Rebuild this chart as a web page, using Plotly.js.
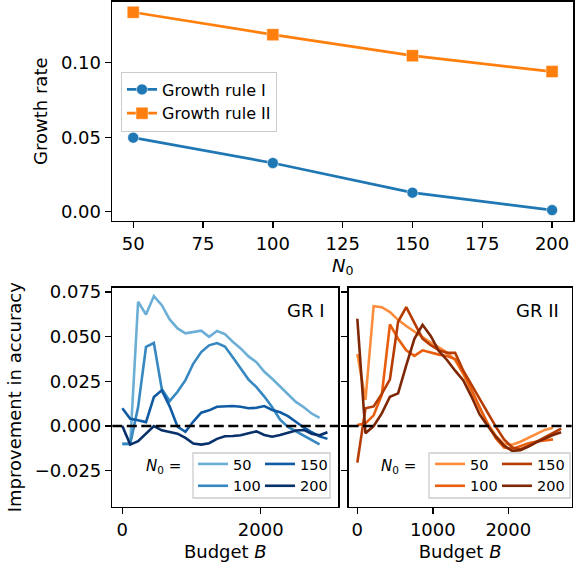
<!DOCTYPE html>
<html>
<head>
<meta charset="utf-8">
<script src="https://cdn.plot.ly/plotly-3.0.1.min.js"></script>
<style>
  html, body { margin: 0; padding: 0; background: #ffffff; }
  #chart { width: 576px; height: 568px; }
</style>
</head>
<body>
<div id="chart"></div>
<script>
// ---------- Top panel data ----------
const N0 = [50, 100, 150, 200];
const growthRuleI = [0.0497, 0.0327, 0.0128, 0.0011];
const growthRuleII = [0.1338, 0.1188, 0.1047, 0.0940];

// ---------- Bottom-left panel (GR I) ----------
const budgetGR1 = [0, 114, 228, 342, 456, 570, 684, 798, 912, 1026, 1140, 1254, 1368, 1482,
  1596, 1710, 1824, 1938, 2052, 2166, 2280, 2394, 2508, 2622, 2736, 2850, 2964];
const gr1N50 = [-0.0100, -0.0100, 0.0696, 0.0625, 0.0728, 0.0677, 0.0597, 0.0547, 0.0519, 0.0528,
  0.0534, 0.0500, 0.0532, 0.0515, 0.0472, 0.0435, 0.0390, 0.0358, 0.0304, 0.0265, 0.0220, 0.0180,
  0.0135, 0.0105, 0.0070, 0.0045];
const gr1N100 = [-0.0100, -0.0100, 0.0106, 0.0443, 0.0465, 0.0208, 0.0140, 0.0192, 0.0257, 0.0350,
  0.0414, 0.0452, 0.0465, 0.0445, 0.0385, 0.0320, 0.0260, 0.0218, 0.0165, 0.0105, 0.0035, -0.0005,
  -0.0030, -0.0053, -0.0078, -0.0103];
const gr1N150 = [0.0100, 0.0041, 0.0032, 0.0022, 0.0162, 0.0200, 0.0110, -0.0004, -0.0032, 0.0025,
  0.0075, 0.0088, 0.0108, 0.0112, 0.0112, 0.0108, 0.0100, 0.0102, 0.0112, 0.0090, 0.0077, 0.0055,
  0.0022, -0.0008, -0.0035, -0.0058, -0.0072];
const gr1N200 = [0.0000, -0.0104, -0.0085, -0.0044, 0.0000, -0.0024, -0.0033, -0.0043, -0.0067,
  -0.0098, -0.0104, -0.0096, -0.0072, -0.0057, -0.0056, -0.0052, -0.0040, -0.0030, -0.0050, -0.0060,
  -0.0050, -0.0038, -0.0025, -0.0022, -0.0043, -0.0052, -0.0035];

// ---------- Bottom-right panel (GR II) ----------
const budgetGR2 = [0, 108, 216, 324, 432, 540, 648, 756, 864, 972, 1080, 1188, 1296, 1404, 1512,
  1620, 1728, 1836, 1944, 2052, 2160, 2268, 2376, 2484, 2592, 2700];
const gr2N50 = [0.0403, 0.0146, 0.0671, 0.0666, 0.0638, 0.0595, 0.0560, 0.0528, 0.0500, 0.0467,
  0.0440, 0.0412, 0.0370, 0.0290, 0.0195, 0.0100, 0.0015, -0.0055, -0.0100, -0.0105, -0.0088,
  -0.0065, -0.0042, -0.0022, -0.0010];
const gr2N100 = [0.0005, 0.0015, 0.0060, 0.0174, 0.0570, 0.0489, 0.0424, 0.0393, 0.0424, 0.0410,
  0.0400, 0.0392, 0.0375, 0.0300, 0.0205, 0.0110, 0.0010, -0.0070, -0.0120, -0.0128, -0.0112,
  -0.0097, -0.0087, -0.0080, -0.0075];
const gr2N150 = [-0.0205, 0.0099, 0.0110, 0.0180, 0.0262, 0.0584, 0.0666, 0.0575, 0.0490, 0.0453,
  0.0425, 0.0410, 0.0410, 0.0310, 0.0230, 0.0150, 0.0070, -0.0005, -0.0075, -0.0120, -0.0130,
  -0.0112, -0.0088, -0.0065, -0.0040, -0.0015];
const gr2N200 = [0.0601, -0.0041, 0.0000, 0.0071, 0.0164, 0.0183, 0.0340, 0.0489, 0.0567, 0.0505,
  0.0420, 0.0370, 0.0310, 0.0255, 0.0165, 0.0065, 0.0000, -0.0060, -0.0110, -0.0140, -0.0135,
  -0.0115, -0.0090, -0.0068, -0.0050, -0.0035];

const N0Labels = ['50', '100', '150', '200'];
const blues = ['#6baed6', '#3787c0', '#105ca4', '#08306b'];
const oranges = ['#fd8d3c', '#e95e0d', '#b73c02', '#7f2704'];

const FONT = 'DejaVu Sans, Liberation Sans, sans-serif';
const W = 576, H = 568;
const px = v => v / W;          // horizontal pixel -> paper
const py = v => 1 - v / H;      // vertical pixel (from top) -> paper

const traces = [];
traces.push({
  x: N0, y: growthRuleI, type: 'scatter', mode: 'lines+markers', name: 'Growth rule I',
  xaxis: 'x', yaxis: 'y', legend: 'legend',
  line: {color: '#1f77b4', width: 2.7},
  marker: {symbol: 'circle', size: 11, color: '#1f77b4', line: {color: 'rgba(255,255,255,0.55)', width: 1}}
});
traces.push({
  x: N0, y: growthRuleII, type: 'scatter', mode: 'lines+markers', name: 'Growth rule II',
  xaxis: 'x', yaxis: 'y', legend: 'legend',
  line: {color: '#ff7f0e', width: 2.7},
  marker: {symbol: 'square', size: 12, color: '#ff7f0e', line: {color: 'rgba(255,255,255,0.45)', width: 1}}
});

const gr1Series = [gr1N50, gr1N100, gr1N150, gr1N200];
const gr2Series = [gr2N50, gr2N100, gr2N150, gr2N200];
gr1Series.forEach((ys, i) => {
  traces.push({
    x: budgetGR1, y: ys, type: 'scatter', mode: 'lines', name: N0Labels[i],
    xaxis: 'x2', yaxis: 'y2', legend: i < 2 ? 'legend2' : 'legend3',
    line: {color: blues[i], width: 2.6}
  });
});
gr2Series.forEach((ys, i) => {
  traces.push({
    x: budgetGR2, y: ys, type: 'scatter', mode: 'lines', name: N0Labels[i],
    xaxis: 'x3', yaxis: 'y3', legend: i < 2 ? 'legend4' : 'legend5',
    line: {color: oranges[i], width: 2.6}
  });
});

const axisCommon = {
  showgrid: false, zeroline: false, showline: true, mirror: true,
  linecolor: '#000000', linewidth: 1.4,
  ticks: 'outside', ticklen: 6, tickwidth: 1.4, tickcolor: '#000000',
  tickfont: {family: FONT, size: 18, color: '#000000'}
};

const smallLegend = (xPix) => ({
  x: px(xPix), y: py(475), xanchor: 'left', yanchor: 'middle',
  bgcolor: 'rgba(0,0,0,0)', borderwidth: 0,
  font: {family: FONT, size: 14.5, color: '#000000'},
  tracegroupgap: 0
});

const layout = {
  width: W, height: H,
  margin: {l: 0, r: 0, t: 0, b: 0},
  paper_bgcolor: '#ffffff', plot_bgcolor: '#ffffff',
  font: {family: FONT, color: '#000000'},
  showlegend: true,
  xaxis: Object.assign({}, axisCommon, {
    domain: [px(112), px(573.3)], anchor: 'y',
    range: [42.4, 207.6], tickmode: 'array', tickvals: [50, 75, 100, 125, 150, 175, 200],
    title: {text: '<i>N</i><sub>0</sub>', font: {family: FONT, size: 18}, standoff: 6}
  }),
  yaxis: Object.assign({}, axisCommon, {
    domain: [py(220.7), py(1.7)], anchor: 'x',
    range: [-0.0060, 0.1409], tickmode: 'array', tickvals: [0, 0.05, 0.10], tickformat: '.2f',
    title: {text: 'Growth rate', font: {family: FONT, size: 18}, standoff: 8}
  }),
  xaxis2: Object.assign({}, axisCommon, {
    domain: [px(112.3), px(338.3)], anchor: 'y2',
    range: [-145, 3121], tickmode: 'array', tickvals: [0, 2000],
    title: {text: 'Budget <i>B</i>', font: {family: FONT, size: 18}, standoff: 6}
  }),
  yaxis2: Object.assign({}, axisCommon, {
    domain: [py(506.7), py(287.7)], anchor: 'x2',
    range: [-0.0452, 0.0775], tickmode: 'array',
    tickvals: [-0.025, 0, 0.025, 0.05, 0.075], tickformat: '.3f',
    title: {text: 'Improvement in accuracy', font: {family: FONT, size: 18}, standoff: 8}
  }),
  xaxis3: Object.assign({}, axisCommon, {
    domain: [px(348.5), px(571.7)], anchor: 'y3',
    range: [-117, 2840], tickmode: 'array', tickvals: [0, 1000, 2000],
    title: {text: 'Budget <i>B</i>', font: {family: FONT, size: 18}, standoff: 6}
  }),
  yaxis3: Object.assign({}, axisCommon, {
    domain: [py(506.7), py(287.7)], anchor: 'x3',
    range: [-0.0452, 0.0775], tickmode: 'array',
    tickvals: [-0.025, 0, 0.025, 0.05, 0.075], showticklabels: false
  }),
  legend: {
    x: px(121), y: py(101.5), xanchor: 'left', yanchor: 'middle',
    bgcolor: 'rgba(255,255,255,0.8)', bordercolor: '#cccccc', borderwidth: 1,
    font: {family: FONT, size: 16, color: '#000000'}, tracegroupgap: 0
  },
  legend2: smallLegend(193),
  legend3: smallLegend(260),
  legend4: smallLegend(430),
  legend5: smallLegend(497),
  shapes: [
    {type: 'rect', xref: 'paper', yref: 'paper', x0: px(193), x1: px(330), y0: py(498), y1: py(453),
     line: {color: '#cccccc', width: 1.3}, fillcolor: 'rgba(255,255,255,0.8)', layer: 'above'},
    {type: 'rect', xref: 'paper', yref: 'paper', x0: px(429), x1: px(570), y0: py(498), y1: py(453),
     line: {color: '#cccccc', width: 1.3}, fillcolor: 'rgba(255,255,255,0.8)', layer: 'above'},
    {type: 'line', xref: 'x2 domain', yref: 'y2', x0: 0, x1: 1, y0: 0, y1: 0,
     line: {color: '#000000', width: 2.4, dash: '10px,4.5px'}, layer: 'above'},
    {type: 'line', xref: 'x3 domain', yref: 'y3', x0: 0, x1: 1, y0: 0, y1: 0,
     line: {color: '#000000', width: 2.4, dash: '10px,4.5px'}, layer: 'above'}
  ],
  annotations: [
    {text: 'GR I', xref: 'x2 domain', yref: 'y2 domain', x: 0.95, y: 0.898,
     xanchor: 'right', yanchor: 'middle', showarrow: false,
     font: {family: FONT, size: 18, color: '#000000'}},
    {text: 'GR II', xref: 'x3 domain', yref: 'y3 domain', x: 0.952, y: 0.898,
     xanchor: 'right', yanchor: 'middle', showarrow: false,
     font: {family: FONT, size: 18, color: '#000000'}},
    {text: '<i>N</i><sub>0</sub> =', xref: 'paper', yref: 'paper', x: px(183), y: py(466),
     xanchor: 'right', yanchor: 'middle', showarrow: false,
     font: {family: FONT, size: 15, color: '#000000'}},
    {text: '<i>N</i><sub>0</sub> =', xref: 'paper', yref: 'paper', x: px(418), y: py(466),
     xanchor: 'right', yanchor: 'middle', showarrow: false,
     font: {family: FONT, size: 15, color: '#000000'}}
  ]
};

Plotly.newPlot('chart', traces, layout, {displayModeBar: false, staticPlot: true});
</script>
</body>
</html>
